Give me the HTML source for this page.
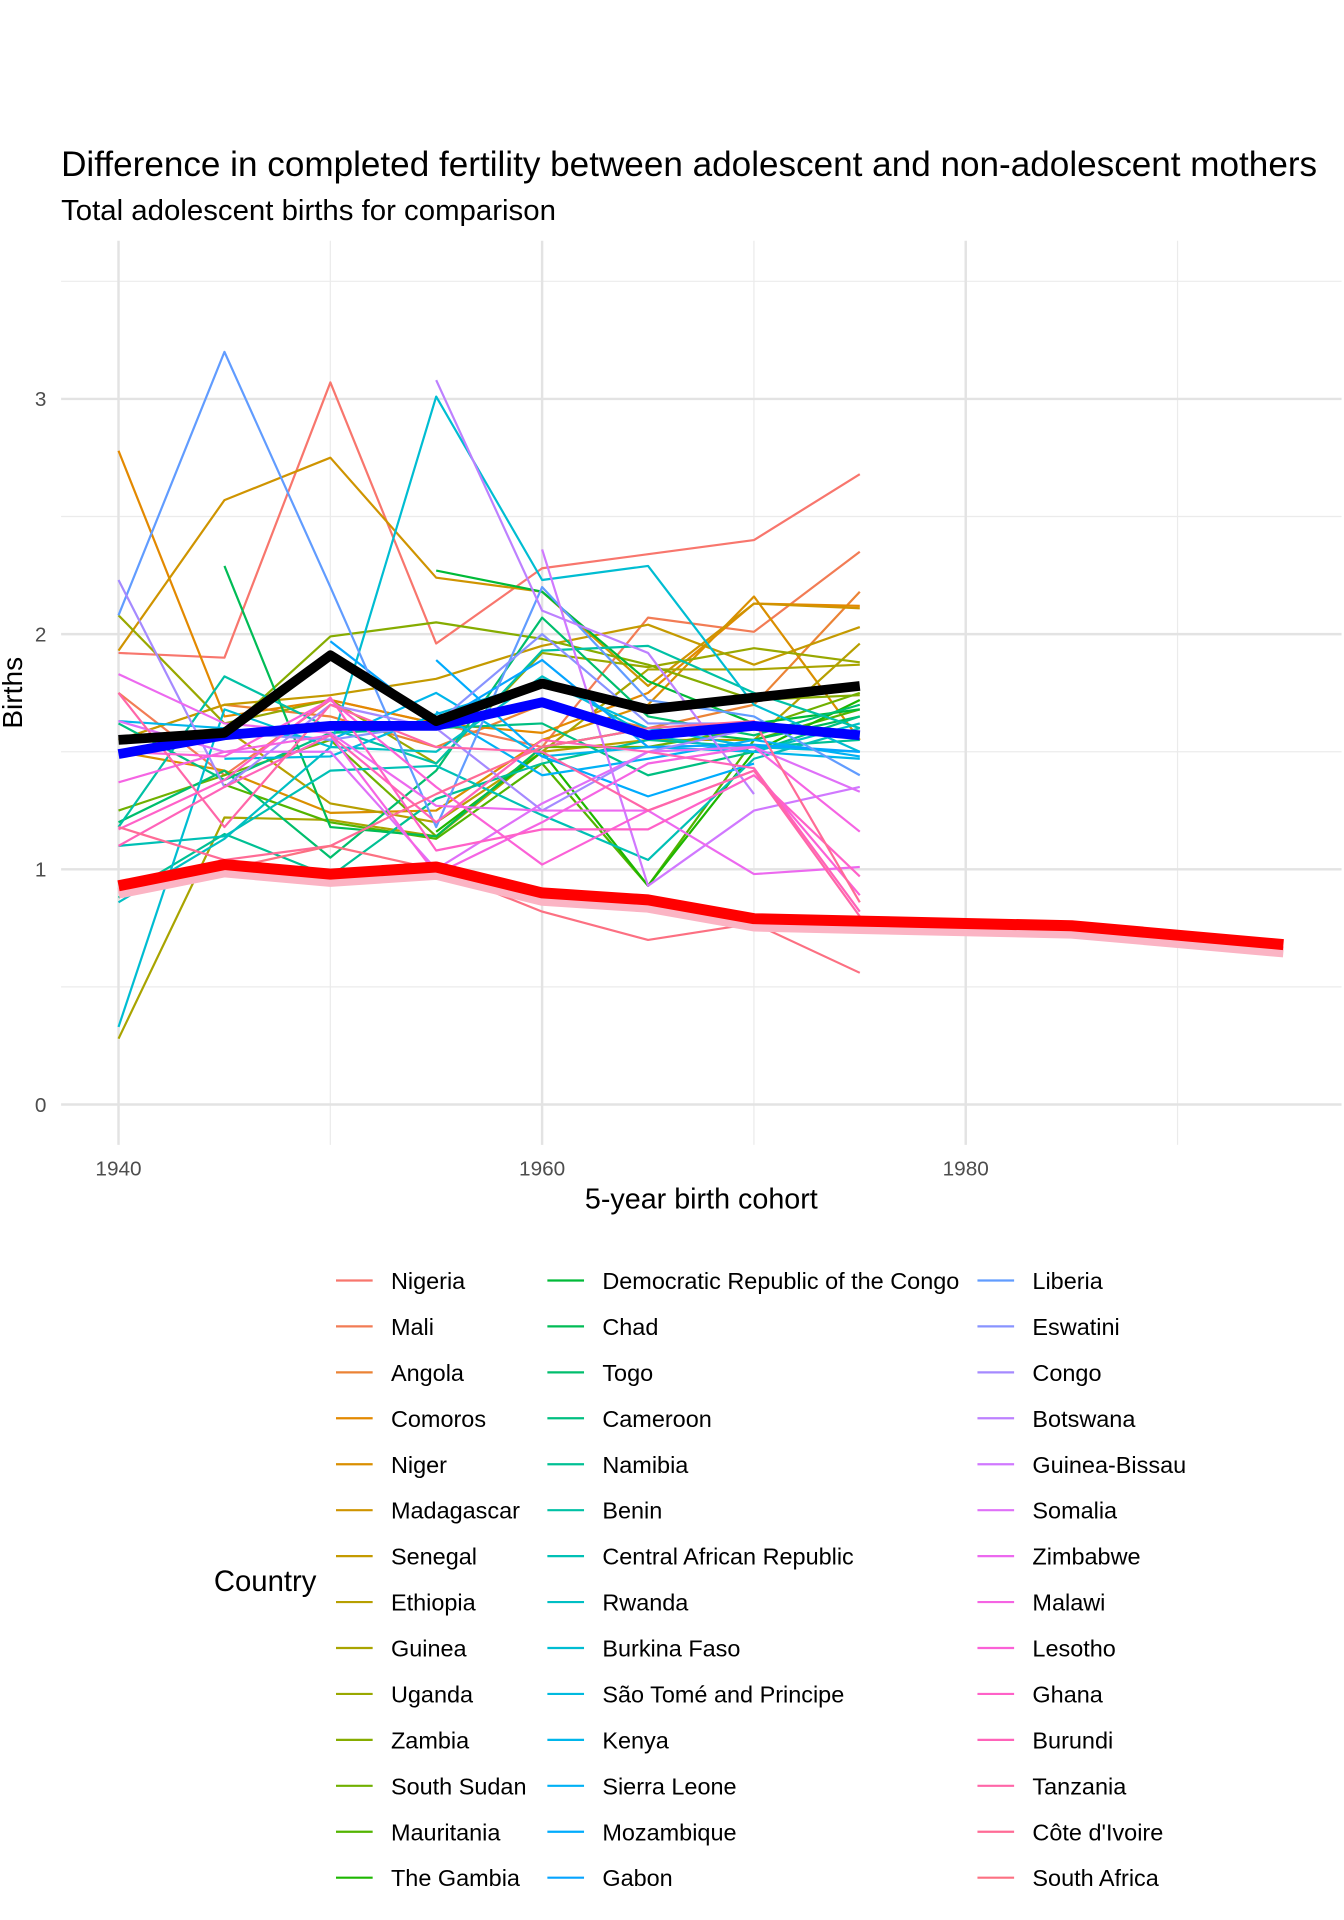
<!DOCTYPE html>
<html><head><meta charset="utf-8"><style>
html,body{margin:0;padding:0;background:#fff;}
svg{display:block;font-family:"Liberation Sans",Arial,sans-serif;}
</style></head><body>
<svg id="chart" width="1344" height="1920" viewBox="0 0 1100 1571.43" xmlns="http://www.w3.org/2000/svg">
<rect width="1100" height="1572" fill="#fff"/>
<text x="50" y="144" font-size="28.5" fill="#000" textLength="1028" lengthAdjust="spacingAndGlyphs">Difference in completed fertility between adolescent and non-adolescent mothers</text>
<text x="50" y="180" font-size="23.5" fill="#000" textLength="405" lengthAdjust="spacingAndGlyphs">Total adolescent births for comparison</text>
<g id="grid"></g>
<g id="series"></g>
<g id="axes"></g>
<text x="574" y="989" font-size="23.5" text-anchor="middle">5-year birth cohort</text>
<text transform="translate(18,567) rotate(-90)" font-size="23" text-anchor="middle">Births</text>
<text x="175" y="1302" font-size="24">Country</text>
<g id="legend"></g>
</svg>
<script>
const years=[1940,1945,1950,1955,1960,1965,1970,1975];
const countries=["Nigeria","Mali","Angola","Comoros","Niger","Madagascar","Senegal","Ethiopia","Guinea","Uganda","Zambia","South Sudan","Mauritania","The Gambia","Democratic Republic of the Congo","Chad","Togo","Cameroon","Namibia","Benin","Central African Republic","Rwanda","Burkina Faso","São Tomé and Principe","Kenya","Sierra Leone","Mozambique","Gabon","Liberia","Eswatini","Congo","Botswana","Guinea-Bissau","Somalia","Zimbabwe","Malawi","Lesotho","Ghana","Burundi","Tanzania","Côte d'Ivoire","South Africa"];
const N=null;
const values=[
[1.92,1.90,3.07,1.96,2.28,2.34,2.40,2.68],
[1.75,1.40,1.72,1.62,1.52,2.07,2.01,2.35],
[1.55,1.70,1.65,1.52,1.70,1.60,1.70,2.18],
[2.78,1.65,1.72,1.62,1.58,1.75,2.13,2.12],
[1.50,1.42,1.24,1.25,1.55,1.70,2.16,1.55],
[1.93,2.57,2.75,2.24,2.18,1.78,2.13,2.11],
[1.55,1.70,1.74,1.81,1.95,2.04,1.87,2.03],
[1.55,1.60,1.28,1.20,1.50,1.55,1.55,1.96],
[0.28,1.22,1.21,1.14,1.50,1.85,1.85,1.87],
[2.08,1.62,1.72,1.45,1.92,1.86,1.94,1.88],
[1.55,1.58,1.99,2.05,1.98,1.87,1.72,1.74],
[1.25,1.40,1.55,1.14,1.52,1.52,1.60,1.75],
[N,1.36,1.20,1.13,1.45,0.93,1.55,1.68],
[N,N,N,1.16,1.50,0.93,1.50,1.72],
[N,N,N,2.27,2.18,1.80,1.62,1.68],
[N,2.29,1.18,1.14,1.52,1.60,1.55,1.65],
[1.20,1.42,1.05,1.42,2.07,1.65,1.57,1.70],
[1.62,1.38,1.58,1.60,1.62,1.40,1.50,1.65],
[0.88,1.15,0.97,1.30,1.45,1.55,1.52,1.55],
[1.18,1.82,1.60,1.45,1.93,1.95,1.75,1.60],
[1.10,1.14,1.42,1.44,1.23,1.04,1.47,1.60],
[0.86,1.13,1.52,1.50,1.82,1.57,1.50,1.62],
[0.33,1.68,1.52,3.01,2.23,2.29,1.70,1.50],
[N,1.47,1.48,1.66,1.80,1.60,1.52,1.50],
[1.63,1.60,1.55,1.75,1.48,1.52,1.50,1.47],
[N,N,N,1.67,1.40,1.47,1.55,1.48],
[N,N,N,1.89,1.48,1.31,1.45,N],
[N,N,1.97,1.62,1.89,1.52,1.53,1.50],
[2.08,3.20,2.20,1.18,2.20,1.72,1.65,1.40],
[1.50,1.58,1.55,1.62,2.00,1.62,1.62,1.58],
[2.23,1.35,1.70,1.60,1.25,1.50,1.60,N],
[N,N,N,3.08,2.10,1.92,1.32,N],
[N,N,N,N,2.36,0.93,1.25,1.35],
[1.63,1.50,1.50,1.00,1.28,1.50,1.52,1.33],
[1.83,1.62,1.58,1.27,1.25,1.25,0.98,1.01],
[1.37,1.50,1.57,0.98,1.20,1.45,1.52,1.16],
[1.50,1.48,1.72,1.35,1.02,1.25,1.42,0.89],
[1.17,1.38,1.73,1.08,1.17,1.17,1.40,0.97],
[1.10,1.35,1.57,1.20,1.55,1.50,1.43,0.82],
[1.75,1.18,1.70,1.52,1.50,1.25,1.42,0.80],
[1.18,1.04,1.10,1.32,1.52,1.60,1.63,0.86],
[0.90,1.00,1.10,1.00,0.82,0.70,0.77,0.56]
];
const meanDiff=[1.55,1.58,1.91,1.63,1.79,1.68,1.73,1.78];
const medianDiff=[1.49,1.57,1.61,1.61,1.71,1.57,1.61,1.57];
const adolYears=[1940,1945,1950,1955,1960,1965,1970,1975,1980,1985,1990,1995];
const adolBirths=[0.93,1.02,0.98,1.01,0.90,0.87,0.79,0.78,0.77,0.76,0.72,0.68];
const xTicks=[1940,1960,1980];
const yTicks=[0,1,2,3];

const NS="http://www.w3.org/2000/svg";
const X=y=>97+(y-1940)*17.335;
const Y=v=>904-v*192.5;
function mk(tag,attrs,parent){const e=document.createElementNS(NS,tag);for(const k in attrs)e.setAttribute(k,attrs[k]);parent.appendChild(e);return e;}
function hcl(h,c,l){
  const hr=h*Math.PI/180,U=c*Math.cos(hr),V=c*Math.sin(hr);
  const un=0.19783982,vn=0.4683363;
  const Yy=l>8?Math.pow((l+16)/116,3):l/903.3;
  const u=U/(13*l)+un,v=V/(13*l)+vn;
  const Xx=9*Yy*u/(4*v),Z=-Xx/3-5*Yy+3*Yy/v;
  let r=3.240479*Xx-1.53715*Yy-0.498535*Z,g=-0.969256*Xx+1.875992*Yy+0.041556*Z,b=0.055648*Xx-0.204043*Yy+1.057311*Z;
  const gc=t=>{t=t>0.0031308?1.055*Math.pow(t,1/2.4)-0.055:12.92*t;return Math.round(Math.max(0,Math.min(1,t))*255);};
  return `rgb(${gc(r)},${gc(g)},${gc(b)})`;
}
const colors=countries.map((c,i)=>hcl(15+i*360/countries.length,100,65));

const grid=document.getElementById('grid');
[0.5,1.5,2.5,3.5].forEach(v=>mk('line',{x1:50,x2:1098,y1:Y(v),y2:Y(v),stroke:'#ebebeb','stroke-width':1},grid));
[1950,1970,1990].forEach(v=>mk('line',{x1:X(v),x2:X(v),y1:197,y2:937,stroke:'#ebebeb','stroke-width':1},grid));
yTicks.forEach(v=>mk('line',{x1:50,x2:1098,y1:Y(v),y2:Y(v),stroke:'#e3e3e3','stroke-width':2},grid));
xTicks.forEach(v=>mk('line',{x1:X(v),x2:X(v),y1:197,y2:937,stroke:'#e3e3e3','stroke-width':2},grid));

const axes=document.getElementById('axes');
yTicks.forEach(v=>{const t=mk('text',{x:38,y:Y(v)+6,'font-size':17,fill:'#4d4d4d','text-anchor':'end'},axes);t.textContent=v;

});
xTicks.forEach(v=>{const t=mk('text',{x:X(v),y:962,'font-size':17,fill:'#4d4d4d','text-anchor':'middle'},axes);t.textContent=v;

});

const sg=document.getElementById('series');
function pathFor(xs,vs,off){let d='',pen=false;vs.forEach((v,i)=>{if(v===null){pen=false;return;}d+=(pen?'L':'M')+X(xs[i]).toFixed(1)+','+(Y(v)+(off||0)).toFixed(1);pen=true;});return d;}
countries.forEach((c,i)=>{
  const p=mk('path',{d:pathFor(years,values[i]),fill:'none',stroke:colors[i],'stroke-width':1.8,'stroke-linejoin':'round'},sg);
  
  
});
const sh=mk('path',{d:pathFor(adolYears,adolBirths,6),fill:'none',stroke:'#fbb4c4','stroke-width':9,'stroke-linejoin':'round'},sg);


const rl=mk('path',{d:pathFor(adolYears,adolBirths),fill:'none',stroke:'#ff0000','stroke-width':9,'stroke-linejoin':'round'},sg);


const bl=mk('path',{d:pathFor(years,medianDiff),fill:'none',stroke:'#0000ff','stroke-width':8,'stroke-linejoin':'round'},sg);


const kl=mk('path',{d:pathFor(years,meanDiff),fill:'none',stroke:'#000','stroke-width':8,'stroke-linejoin':'round'},sg);



const lg=document.getElementById('legend');
const colX=[275,448,800];
countries.forEach((c,i)=>{
  const col=Math.floor(i/14),row=i%14,y=1048+row*37.6;
  const g=mk('g',{},lg);
  
  
  mk('line',{x1:colX[col],x2:colX[col]+30,y1:y,y2:y,stroke:colors[i],'stroke-width':1.8},g);
  const t=mk('text',{x:colX[col]+45,y:y+7,'font-size':19.2,fill:'#000'},g);t.textContent=c;
});
</script>
</body></html>
